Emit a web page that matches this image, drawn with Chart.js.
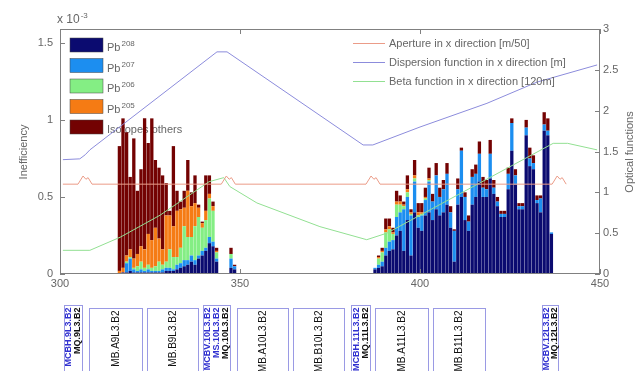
<!DOCTYPE html>
<html>
<head>
<meta charset="utf-8">
<script src="https://cdn.jsdelivr.net/npm/chart.js@4.4.1/dist/chart.umd.min.js"></script>
<style>
  body { margin: 0; background: #fff; }
</style>
</head>
<body>
<canvas id="chart" width="640" height="371"></canvas>
<script>
// bin centres along s [m]; first 30 bins = left cluster, next 50 = right cluster
const binCenters = [
  316.5, 317.5, 318.5, 319.5, 320.5, 321.5, 322.5, 323.5, 324.5, 325.5,
  326.5, 327.5, 328.5, 329.5, 330.5, 331.5, 332.5, 333.5, 334.5, 335.5,
  336.5, 337.5, 338.5, 339.5, 340.5, 341.5, 342.5, 343.5, 347.5, 348.5,
  387.5, 388.5, 389.5, 390.5, 391.5, 392.5, 393.5, 394.5, 395.5, 396.5,
  397.5, 398.5, 399.5, 400.5, 401.5, 402.5, 403.5, 404.5, 405.5, 406.5,
  407.5, 408.5, 409.5, 410.5, 411.5, 412.5, 413.5, 414.5, 415.5, 416.5,
  417.5, 418.5, 419.5, 420.5, 421.5, 422.5, 423.5, 424.5, 425.5, 426.5,
  427.5, 428.5, 429.5, 430.5, 431.5, 432.5, 433.5, 434.5, 435.5, 436.5
];

// inefficiency per bin, in units of 1e-3
const pb208 = [
  0, 0.01, 0.01, 0.02, 0.01, 0.01, 0.01, 0.01, 0.01, 0.01,
  0.01, 0.01, 0.01, 0.02, 0.02, 0.02, 0.03, 0.04, 0.05, 0.06,
  0.08, 0.06, 0.10, 0.12, 0.15, 0.20, 0.18, 0.08, 0.04, 0.03,
  0.03, 0.04, 0.05, 0.12, 0.15, 0.16, 0.25, 0.28, 0.15, 0.35,
  0.12, 0.40, 0.30, 0.28, 0.38, 0.40, 0.35, 0.42, 0.38, 0.40,
  0.45, 0.30, 0.08, 0.45, 0.50, 0.35, 0.28, 0.45, 0.50, 0.60,
  0.50, 0.50, 0.62, 0.52, 0.44, 0.37, 0.37, 0.55, 0.80, 0.58,
  0.42, 0.42, 0.90, 0.70, 0.68, 0.46, 0.40, 0.93, 0.90, 0.26
];
const pb207 = [
  0, 0, 0.06, 0.08, 0.02, 0.01, 0.02, 0.01, 0.02, 0.01,
  0.01, 0.01, 0.02, 0.02, 0.02, 0.01, 0.03, 0.03, 0.04, 0.03,
  0.04, 0.03, 0.02, 0.03, 0.02, 0.04, 0.03, 0.02, 0.06, 0.02,
  0.01, 0.02, 0.03, 0.05, 0.06, 0.06, 0.12, 0.12, 0.27, 0.15,
  0.26, 0.20, 0.07, 0.10, 0.10, 0.20, 0.12, 0.22, 0.12, 0.15,
  0.20, 0.10, 0.20, 0.10, 0.30, 0.15, 0.06, 0.18, 0.15, 0.18,
  0.06, 0.05, 0.16, 0.04, 0.03, 0.02, 0.02, 0.10, 0.18, 0.06,
  0.02, 0.02, 0.05, 0.05, 0.04, 0.02, 0.09, 0.04, 0.03, 0.01
];
const pb206 = [
  0, 0, 0.01, 0.01, 0.01, 0.03, 0.05, 0.02, 0.03, 0.02,
  0.03, 0.06, 0.03, 0.04, 0.12, 0.08, 0.05, 0.10, 0.22, 0.15,
  0.12, 0.22, 0.25, 0.15, 0.18, 0.25, 0.20, 0.04, 0.03, 0,
  0, 0.04, 0.06, 0.10, 0.08, 0.04, 0.08, 0.05, 0.02, 0.03,
  0.01, 0.02, 0.01, 0.01, 0.01, 0.01, 0, 0, 0, 0,
  0, 0, 0, 0, 0, 0, 0, 0, 0, 0,
  0, 0, 0, 0, 0, 0, 0, 0, 0, 0,
  0, 0, 0, 0, 0, 0, 0, 0, 0, 0
];
const pb205 = [
  0.02, 0.03, 0.04, 0.05, 0.06, 0.08, 0.10, 0.12, 0.20, 0.18,
  0.25, 0.15, 0.10, 0.30, 0.22, 0.20, 0.30, 0.25, 0.12, 0.30,
  0.20, 0.15, 0.06, 0.03, 0.06, 0.03, 0.03, 0.01, 0, 0,
  0, 0.01, 0.01, 0.02, 0.02, 0.01, 0.02, 0.02, 0.01, 0.02,
  0.01, 0.02, 0.02, 0.01, 0.01, 0.01, 0, 0, 0, 0,
  0, 0, 0, 0, 0, 0, 0, 0, 0, 0,
  0, 0, 0, 0, 0, 0, 0, 0, 0, 0,
  0, 0, 0, 0, 0, 0, 0, 0, 0, 0
];
const others = [
  0.81, 0.97, 0.80, 0.47, 0.78, 0.41, 0.50, 0.85, 0.59, 0.79,
  0.44, 0.46, 0.48, 0.21, 0.03, 0.52, 0.13, 0.05, 0.11, 0.20,
  0.09, 0.18, 0.02, 0.01, 0.23, 0.12, 0.03, 0.02, 0.04, 0.01,
  0, 0.01, 0.02, 0.07, 0.05, 0.03, 0.07, 0.04, 0.02, 0.09,
  0.02, 0.10, 0.06, 0.06, 0.06, 0.07, 0.05, 0.08, 0.06, 0.06,
  0.07, 0.04, 0.01, 0.07, 0.02, 0.03, 0.04, 0.05, 0.06, 0.08,
  0.07, 0.06, 0.09, 0.05, 0.03, 0.02, 0.02, 0.04, 0.03, 0.04,
  0.02, 0.02, 0.05, 0.07, 0.05, 0.03, 0.02, 0.08, 0.08, 0
];

// optical functions (right axis)
const apertureS = [300.8, 305, 306.4, 307.2, 307.8, 308.9, 344.8, 346.2, 347, 347.6, 348.7,
                   385, 386.4, 387.2, 387.8, 388.9, 436.7, 438.1, 438.9, 439.5, 440.6];
const apertureV = [1.1, 1.1, 1.2, 1.16, 1.18, 1.1, 1.1, 1.2, 1.16, 1.18, 1.1,
                   1.1, 1.2, 1.16, 1.18, 1.1, 1.1, 1.2, 1.16, 1.18, 1.1];
const dispS = [300.8, 305.5, 307, 308.3, 343.6, 346.4, 384.2, 386.9, 400, 418.6, 432.5, 449.2];
const dispV = [1.40, 1.41, 1.46, 1.52, 2.72, 2.72, 1.58, 1.58, 1.80, 2.09, 2.35, 2.56];
const betaS = [300.8, 308.3, 316.7, 327.8, 341.4, 345.5, 347.2, 354.7, 372.2, 385.2, 390.8, 437, 441, 449.2];
const betaV = [0.29, 0.29, 0.45, 0.72, 1.13, 1.18, 1.07, 0.87, 0.58, 0.42, 0.50, 1.60, 1.60, 1.52];

const xTicks = [300, 350, 400, 450];
const leftTicks = [0, 0.5, 1, 1.5];
const rightTicks = [0, 0.5, 1, 1.5, 2, 2.5, 3];

const barNames = ['Pb', 'Pb', 'Pb', 'Pb', 'Isotopes others'];
const barSups = ['208', '207', '206', '205', ''];
const lineNames = ['Aperture in x direction [m/50]', 'Dispersion function in x direction [m]', 'Beta function in x direction [120m]'];

// beam line elements under the plot
const elemStart = [301, 308, 324.2, 339.7, 349.2, 364.7, 380.8, 387.5, 403.6, 433.9];
const elemEnd = [306, 322.8, 338.3, 347.2, 363.3, 378.9, 386.1, 402.2, 418.1, 438.3];
const elemNames = ['MQ.9L3.B2', 'MB.A9L3.B2', 'MB.B9L3.B2', 'MQ.10L3.B2', 'MB.A10L3.B2',
                   'MB.B10L3.B2', 'MQ.11L3.B2', 'MB.A11L3.B2', 'MB.B11L3.B2', 'MQ.12L3.B2'];
const elemExtra = [['MCBH.9L3.B2'], [], [], ['MCBV.10L3.B2', 'MS.10L3.B2'], [], [],
                   ['MCBH.11L3.B2'], [], [], ['MCBV.12L3.B2']];

const barColors = ['#0b0b70', '#1c8ef0', '#84ee84', '#f57b14', '#730202'];
const lineColors = ['#eb9c88', '#8c8cdc', '#92e092'];
const FONT = 'Liberation Sans, Arial, sans-serif';
const GREY = '#666';

Chart.defaults.font.family = FONT;

const pts = (xs, ys) => xs.map((x, i) => ({ x: x, y: ys[i] }));
const barSeries = [pb208, pb207, pb206, pb205, others];

const datasets = barSeries.map((arr, k) => ({
  type: 'bar',
  data: pts(binCenters, arr),
  backgroundColor: barColors[k],
  borderWidth: 0,
  barPercentage: 0.92,
  categoryPercentage: 1,
  yAxisID: 'y',
  order: 1
}));
[[apertureS, apertureV], [dispS, dispV], [betaS, betaV]].forEach((l, k) => {
  datasets.push({
    type: 'line',
    data: pts(l[0], l[1]),
    borderColor: lineColors[k],
    borderWidth: 1,
    pointRadius: 0,
    tension: 0,
    yAxisID: 'y2',
    order: 0
  });
});

function supText(ctx, base, sup, x, y, size, supSize) {
  ctx.font = size + 'px ' + FONT;
  ctx.fillText(base, x, y);
  const w = ctx.measureText(base).width;
  ctx.font = supSize + 'px ' + FONT;
  ctx.fillText(sup, x + w + 1, y - size * 0.45);
}

const decor = {
  id: 'decor',
  beforeDatasetsDraw(chart) {
    const ctx = chart.ctx;
    ctx.save();
    ctx.textBaseline = 'alphabetic';
    barNames.forEach((n, i) => {
      const y = 45 + i * 20.5;
      ctx.fillStyle = barColors[i];
      ctx.fillRect(70, y - 7, 33, 14);
      ctx.strokeStyle = '#444';
      ctx.lineWidth = 0.5;
      ctx.strokeRect(70, y - 7, 33, 14);
      ctx.fillStyle = GREY;
      supText(ctx, n, barSups[i], 107, y + 6, 11, 8);
    });
    ctx.restore();
  },
  afterDatasetsDraw(chart) {
    const ctx = chart.ctx;
    const a = chart.chartArea;
    const xs = chart.scales.x, yl = chart.scales.y, yr = chart.scales.y2;
    ctx.save();
    // axes box and inward ticks
    ctx.strokeStyle = '#808080';
    ctx.lineWidth = 1;
    ctx.strokeRect(a.left + 0.5, a.top + 0.5, a.right - a.left - 1, a.bottom - a.top - 1);
    ctx.beginPath();
    xTicks.forEach(v => {
      const p = Math.round(xs.getPixelForValue(v)) + 0.5;
      ctx.moveTo(p, a.bottom); ctx.lineTo(p, a.bottom - 5);
      ctx.moveTo(p, a.top); ctx.lineTo(p, a.top + 5);
    });
    leftTicks.forEach(v => {
      const p = Math.round(yl.getPixelForValue(v)) + 0.5;
      ctx.moveTo(a.left, p); ctx.lineTo(a.left + 5, p);
    });
    rightTicks.forEach(v => {
      const p = Math.round(yr.getPixelForValue(v)) + 0.5;
      ctx.moveTo(a.right, p); ctx.lineTo(a.right - 5, p);
    });
    ctx.stroke();

    // line legend
    ctx.font = '11px ' + FONT;
    ctx.textBaseline = 'middle';
    lineNames.forEach((n, i) => {
      const y = 43.5 + i * 19;
      ctx.strokeStyle = lineColors[i];
      ctx.beginPath();
      ctx.moveTo(353, y); ctx.lineTo(385, y);
      ctx.stroke();
      ctx.fillStyle = GREY;
      ctx.fillText(n, 389, y);
    });
    ctx.restore();
  },
  afterDraw(chart) {
    const ctx = chart.ctx;
    const xs = chart.scales.x;
    ctx.save();
    ctx.fillStyle = GREY;
    ctx.textBaseline = 'alphabetic';
    supText(ctx, 'x 10', '-3', 57, 23, 12, 8);

    // axis titles
    ctx.font = '11px ' + FONT;
    ctx.textAlign = 'center';
    ctx.textBaseline = 'middle';
    ctx.save();
    ctx.translate(24, 152); ctx.rotate(-Math.PI / 2);
    ctx.fillText('Inefficiency', 0, 0);
    ctx.restore();
    ctx.save();
    ctx.translate(630, 152); ctx.rotate(-Math.PI / 2);
    ctx.fillText('Optical functions', 0, 0);
    ctx.restore();

    // element boxes
    elemStart.forEach((s, i) => {
      const x0 = Math.round(xs.getPixelForValue(s)) + 0.5;
      const x1 = Math.round(xs.getPixelForValue(elemEnd[i])) + 0.5;
      const quad = elemNames[i].indexOf('MQ') === 0;
      const top = quad ? 305.5 : 308.5;
      ctx.strokeStyle = '#9a9ae4';
      ctx.lineWidth = 1;
      ctx.strokeRect(x0, top, x1 - x0, 80);
      const labels = elemExtra[i].concat([elemNames[i]]);
      const n = labels.length;
      labels.forEach((t, k) => {
        const cx = quad ? x0 + (k + 0.5) * (x1 - x0) / n : (x0 + x1) / 2;
        const blue = k < n - 1;
        ctx.save();
        ctx.translate(cx, top + 2);
        ctx.rotate(-Math.PI / 2);
        ctx.textAlign = 'right';
        ctx.textBaseline = 'middle';
        ctx.font = (quad ? 'bold 9px ' : '10px ') + FONT;
        ctx.fillStyle = blue ? '#3030d0' : '#111';
        ctx.fillText(t, 0, 0);
        ctx.restore();
      });
    });
    ctx.restore();
  }
};

new Chart(document.getElementById('chart').getContext('2d'), {
  data: { datasets: datasets },
  options: {
    responsive: false,
    animation: false,
    events: [],
    layout: { padding: { top: 29, left: 0, right: 0, bottom: 0 } },
    plugins: { legend: { display: false }, tooltip: { enabled: false } },
    scales: {
      x: {
        type: 'linear',
        min: 300,
        max: 450,
        offset: false,
        stacked: true,
        afterBuildTicks: s => { s.ticks = xTicks.map(v => ({ value: v })); },
        afterFit: s => { s.height = 97; },
        grid: { display: false, drawTicks: false, offset: false },
        border: { display: false },
        ticks: { font: { size: 11 }, color: GREY, padding: 3, maxRotation: 0, callback: v => String(v) }
      },
      y: {
        position: 'left',
        min: 0,
        max: 1.59,
        stacked: true,
        afterBuildTicks: s => { s.ticks = leftTicks.map(v => ({ value: v })); },
        afterFit: s => { s.width = 60; },
        grid: { display: false, drawTicks: false },
        border: { display: false },
        ticks: { font: { size: 11 }, color: GREY, padding: 7, callback: v => String(v) }
      },
      y2: {
        position: 'right',
        min: 0,
        max: 3,
        afterBuildTicks: s => { s.ticks = rightTicks.map(v => ({ value: v })); },
        afterFit: s => { s.width = 40; },
        grid: { display: false, drawTicks: false },
        border: { display: false },
        ticks: { font: { size: 11 }, color: GREY, padding: 3, callback: v => String(v) }
      }
    }
  },
  plugins: [decor]
});
</script>
</body>
</html>
